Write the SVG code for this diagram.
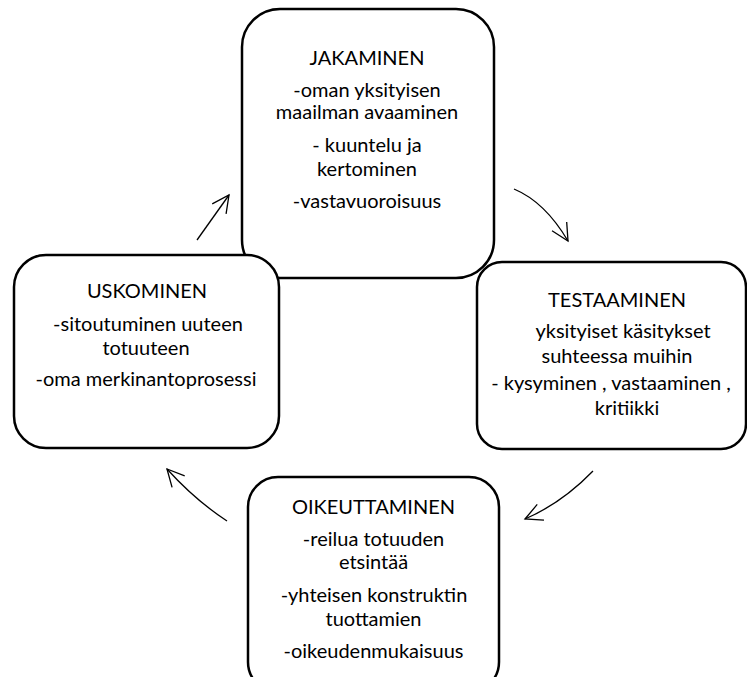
<svg xmlns="http://www.w3.org/2000/svg" width="747" height="677" viewBox="0 0 747 677">
<style>
.box{fill:#fff;stroke:#000;stroke-width:2.5}
.t{font-family:Lato,"Open Sans","Liberation Sans",sans-serif;font-size:20px;fill:#000;text-anchor:middle}
.c{fill:none;stroke:#000;stroke-width:1.3}
</style>
<defs>
<marker id="ah" viewBox="-18 -10 20 20" markerWidth="20" markerHeight="20" refX="0" refY="0" orient="auto" markerUnits="userSpaceOnUse">
<path d="M-17,-8.5 L0,0 L-17,8.5" fill="none" stroke="#000" stroke-width="1.3"/>
</marker>
</defs>
<rect width="747" height="677" fill="#fff"/>
<g id="jakaminen">
<rect class="box" x="242" y="9" width="252" height="269" rx="38" ry="38"/>
<text class="t" x="367" y="65">JAKAMINEN</text>
<text class="t" x="367" y="97">-oman yksityisen</text>
<text class="t" x="367" y="119">maailman avaaminen</text>
<text class="t" x="367" y="152">- kuuntelu ja</text>
<text class="t" x="367" y="176">kertominen</text>
<text class="t" x="367" y="208">-vastavuoroisuus</text>
</g>
<g id="testaaminen">
<rect class="box" x="477" y="262" width="269" height="187" rx="25" ry="25"/>
<text class="t" x="617" y="307">TESTAAMINEN</text>
<text class="t" x="623" y="338">yksityiset käsitykset</text>
<text class="t" x="617" y="363">suhteessa muihin</text>
<text class="t" x="611" y="390">- kysyminen , vastaaminen ,</text>
<text class="t" x="627" y="415">kritiikki</text>
</g>
<g id="uskominen">
<rect class="box" x="14" y="255" width="265" height="193" rx="32" ry="32"/>
<text class="t" x="147" y="298">USKOMINEN</text>
<text class="t" x="148" y="331">-sitoutuminen uuteen</text>
<text class="t" x="146" y="355">totuuteen</text>
<text class="t" x="146" y="386">-oma merkinantoprosessi</text>
</g>
<g id="oikeuttaminen">
<rect class="box" x="248" y="477" width="251" height="215" rx="30" ry="30"/>
<text class="t" x="373.5" y="514">OIKEUTTAMINEN</text>
<text class="t" x="373.5" y="546">-reilua totuuden</text>
<text class="t" x="373.5" y="569">etsintää</text>
<text class="t" x="374" y="602">-yhteisen konstruktin</text>
<text class="t" x="373.5" y="626">tuottamien</text>
<text class="t" x="373.5" y="658">-oikeudenmukaisuus</text>
</g>
<g id="connectors">
<path class="c" d="M197,240 L229,195" marker-end="url(#ah)"/>
<path class="c" d="M514,189 Q545,202 568,241" marker-end="url(#ah)"/>
<path class="c" d="M593,471 Q562,503 525,519" marker-end="url(#ah)"/>
<path class="c" d="M227,521 Q195,500 167,469" marker-end="url(#ah)"/>
</g>
</svg>
